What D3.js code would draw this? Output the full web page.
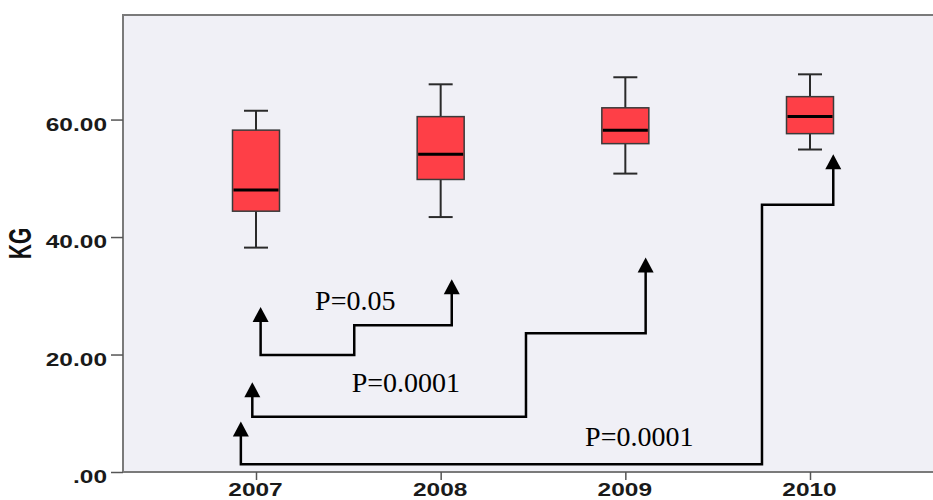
<!DOCTYPE html>
<html>
<head>
<meta charset="utf-8">
<script src="https://cdn.jsdelivr.net/npm/d3@7"></script>
<style>
  html, body { margin: 0; padding: 0; background: #ffffff; }
  svg { display: block; }
</style>
</head>
<body>
<svg id="chart" width="933" height="500"></svg>
<script>
// Yearly body weight (KG) distribution
const years = ["2007", "2008", "2009", "2010"];
const whiskerLow  = [38.2, 43.4, 50.8, 54.9];
const q1          = [44.4, 49.8, 55.9, 57.6];
const median      = [48.0, 54.1, 58.2, 60.5];
const q3          = [58.2, 60.5, 62.0, 63.9];
const whiskerHigh = [61.5, 66.0, 67.2, 67.7];
const yTicks = [0, 20, 40, 60];

// Pairwise comparisons against 2007
const compareFrom = ["2007", "2007", "2007"];
const compareTo   = ["2008", "2009", "2010"];
const pLabels     = ["P=0.05", "P=0.0001", "P=0.0001"];

const svg = d3.select("#chart");
const frame = { left: 123, top: 15, right: 962, bottom: 472 };

const x = d3.scalePoint().domain(years).range([256, 810]);
const step = x.step();
const y = d3.scaleLinear().domain([0, 77.8]).range([frame.bottom, frame.top]);

// plot background and frame
svg.append("rect")
  .attr("x", frame.left).attr("y", frame.top)
  .attr("width", frame.right - frame.left).attr("height", frame.bottom - frame.top)
  .attr("fill", "#f0f0f6").attr("stroke", "#7a7a7a").attr("stroke-width", 2);

const tickFont = "'Liberation Sans', Arial, sans-serif";

// y axis
const yAxis = svg.append("g")
  .attr("transform", `translate(${frame.left},0)`)
  .call(d3.axisLeft(y).tickValues(yTicks).tickSize(12)
    .tickFormat(d => d === 0 ? ".00" : d.toFixed(2)));
yAxis.select(".domain").remove();
yAxis.selectAll(".tick line").attr("stroke", "#555").attr("stroke-width", 1.5);
yAxis.selectAll(".tick text")
  .attr("x", null).attr("dy", null)
  .attr("transform", "translate(-16,10.6) scale(1.4,1)")
  .attr("text-anchor", "end")
  .style("font-family", tickFont).style("font-weight", "bold")
  .style("font-size", "17.5px").attr("fill", "#1a1a1a");

// x axis
const xAxis = svg.append("g")
  .attr("transform", `translate(0,${frame.bottom})`)
  .call(d3.axisBottom(x).tickSize(8));
xAxis.select(".domain").remove();
xAxis.selectAll(".tick line").attr("stroke", "#555").attr("stroke-width", 1.5);
xAxis.selectAll(".tick text")
  .attr("y", null).attr("dy", null)
  .attr("transform", "translate(-1,23.5) scale(1.4,1)")
  .attr("text-anchor", "middle")
  .style("font-family", tickFont).style("font-weight", "bold")
  .style("font-size", "17.5px").attr("fill", "#1a1a1a");

// axis title
svg.append("text")
  .attr("transform", "translate(31,243.5) rotate(-90) scale(1,1.45)")
  .attr("text-anchor", "middle")
  .style("font-family", tickFont).style("font-weight", "bold")
  .style("font-size", "21px").attr("fill", "#111")
  .text("KG");

// box plots
const boxW = 47, capW = 24;
const boxes = svg.append("g");
years.forEach((yr, i) => {
  const cx = x(yr);
  const g = boxes.append("g");
  g.append("line")
    .attr("x1", cx).attr("x2", cx)
    .attr("y1", y(whiskerHigh[i])).attr("y2", y(whiskerLow[i]))
    .attr("stroke", "#2a2a2a").attr("stroke-width", 2);
  [whiskerHigh[i], whiskerLow[i]].forEach(v => {
    g.append("line")
      .attr("x1", cx - capW / 2).attr("x2", cx + capW / 2)
      .attr("y1", y(v)).attr("y2", y(v))
      .attr("stroke", "#2a2a2a").attr("stroke-width", 2);
  });
  g.append("rect")
    .attr("x", cx - boxW / 2).attr("width", boxW)
    .attr("y", y(q3[i])).attr("height", y(q1[i]) - y(q3[i]))
    .attr("fill", "#fe3f47").attr("stroke", "#3a3a3a").attr("stroke-width", 1.5);
  g.append("line")
    .attr("x1", cx - boxW / 2 + 1).attr("x2", cx + boxW / 2 - 1)
    .attr("y1", y(median[i])).attr("y2", y(median[i]))
    .attr("stroke", "#000").attr("stroke-width", 3);
});

// comparison connectors: offsets (in category steps) and levels (KG)
const connectorLayout = [
  { startOff: 0.025, riseAt: 0.532 - 1, endOff: 0.06, base: 19.9, mid: 25.0, tipStart: 28.1, tipEnd: 32.8,
    label: [0.32, 27.6] },
  { startOff: -0.02, riseAt: 1.462 - 2, endOff: 0.11, base: 9.4, mid: 23.6, tipStart: 15.3, tipEnd: 36.5,
    label: [0.518, 13.6] },
  { startOff: -0.082, riseAt: 2.74 - 3, endOff: 0.126, base: 1.3, mid: 45.5, tipStart: 8.6, tipEnd: 54.1,
    label: [1.782, 4.42] }
];

const headW = 16, headH = 15;
const idx = d3.scaleLinear().domain([0, years.length - 1]).range(x.range());
const conn = svg.append("g");

function arrowHead(px, tipY) {
  conn.append("path")
    .attr("d", `M${px},${tipY} L${px - headW / 2},${tipY + headH} L${px + headW / 2},${tipY + headH} Z`)
    .attr("fill", "#000");
}

compareFrom.forEach((from, k) => {
  const L = connectorLayout[k];
  const x0 = x(from) + L.startOff * step;
  const x1 = x(compareTo[k]) + L.riseAt * step;
  const x2 = x(compareTo[k]) + L.endOff * step;
  const pts = [
    [x0, y(L.tipStart) + headH],
    [x0, y(L.base)],
    [x1, y(L.base)],
    [x1, y(L.mid)],
    [x2, y(L.mid)],
    [x2, y(L.tipEnd) + headH]
  ];
  conn.append("path")
    .attr("d", d3.line()(pts))
    .attr("fill", "none").attr("stroke", "#000").attr("stroke-width", 2.5)
    .attr("stroke-linejoin", "miter").attr("stroke-linecap", "square");
  arrowHead(x0, y(L.tipStart));
  arrowHead(x2, y(L.tipEnd));
  conn.append("text")
    .attr("x", idx(L.label[0])).attr("y", y(L.label[1]))
    .style("font-family", "'Liberation Serif', 'Times New Roman', serif")
    .style("font-size", "28px").attr("fill", "#000")
    .text(pLabels[k]);
});
</script>
</body>
</html>
